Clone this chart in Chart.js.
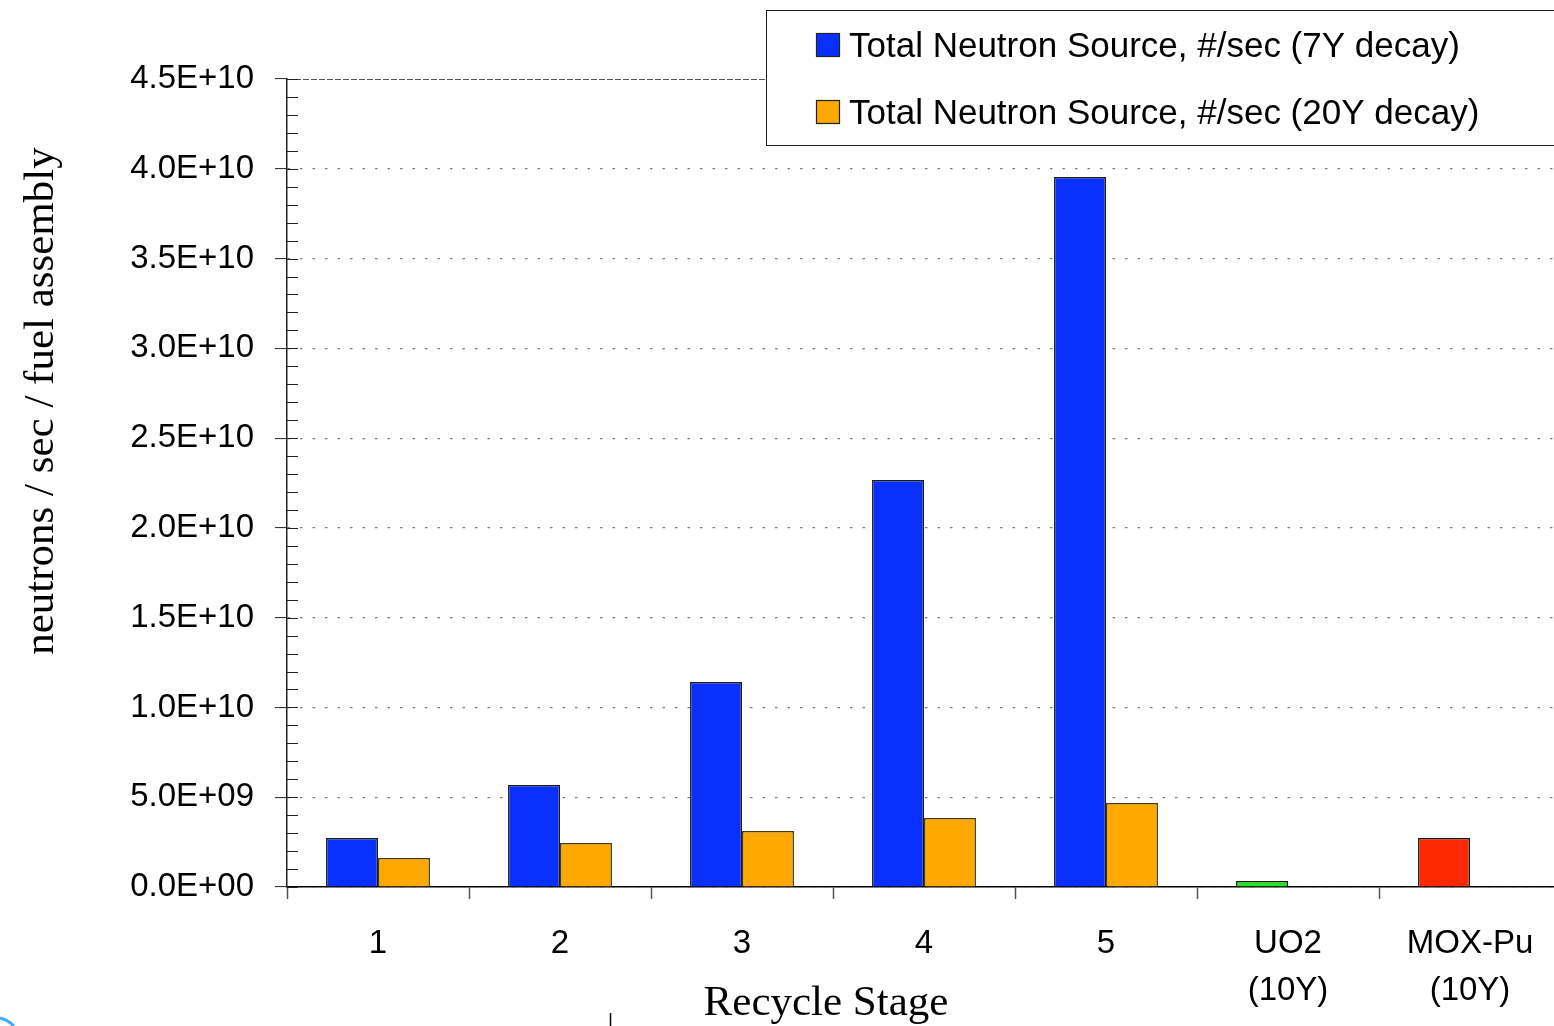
<!DOCTYPE html>
<html>
<head>
<meta charset="utf-8">
<script src="https://cdn.jsdelivr.net/npm/chart.js@4.4.0/dist/chart.umd.min.js"></script>
<style>
  html, body { margin: 0; padding: 0; background: #fff; overflow: hidden; }
  #wrap { width: 1561px; height: 1026px; }
</style>
</head>
<body>
<div id="wrap"><canvas id="c" width="1561" height="1026"></canvas></div>
<script>
// ---- data ----
const categories = ['1', '2', '3', '4', '5', ['UO2', '(10Y)'], ['MOX-Pu', '(10Y)']];
const series7Y = [2.73e9, 5.68e9, 11.42e9, 22.67e9, 39.54e9, 0.33e9, 2.73e9];
const series20Y = [1.62e9, 2.45e9, 3.12e9, 3.84e9, 4.68e9, null, null];
const seriesLabels = ['Total Neutron Source, #/sec (7Y decay)', 'Total Neutron Source, #/sec (20Y decay)'];
const yMin = 0, yMax = 4.5e10, yStep = 5e9, yMinorStep = 1e9;
const xTitle = 'Recycle Stage';
const yTitle = 'neutrons / sec / fuel assembly';

// ---- styles ----
const BLUE = '#0a30ff', ORANGE = '#ffa800', GREEN = '#22e622', RED = '#ff2a00';
const SANS = "'Liberation Sans', Arial, sans-serif";
const SERIF = "'Liberation Serif', 'Times New Roman', serif";

function fmtExp(v) {
  if (v === 0) return '0.0E+00';
  const e = Math.floor(Math.log10(Math.abs(v)) + 1e-9);
  const m = v / Math.pow(10, e);
  return m.toFixed(1) + 'E' + (e >= 0 ? '+' : '-') + String(Math.abs(e)).padStart(2, '0');
}

const decorPlugin = {
  id: 'decor',
  afterDatasetsDraw(chart) {
    const ctx = chart.ctx, y = chart.scales.y, area = chart.chartArea;
    ctx.save();
    // top dashed gridline
    ctx.strokeStyle = '#555';
    ctx.lineWidth = 1;
    ctx.setLineDash([6, 2]);
    ctx.beginPath();
    ctx.moveTo(area.left, Math.round(y.getPixelForValue(yMax)) + 0.5);
    ctx.lineTo(area.right, Math.round(y.getPixelForValue(yMax)) + 0.5);
    ctx.stroke();
    ctx.setLineDash([]);
    // minor + inner ticks
    ctx.strokeStyle = '#222';
    for (let v = yMin; v <= yMax + 1; v += yMinorStep) {
      const py = Math.round(y.getPixelForValue(v)) + 0.5;
      ctx.beginPath();
      ctx.moveTo(area.left, py);
      ctx.lineTo(area.left + 11, py);
      ctx.stroke();
    }
    ctx.restore();
  },
  afterDraw(chart) {
    const ctx = chart.ctx;
    ctx.save();
    // legend
    ctx.fillStyle = '#fff';
    ctx.fillRect(766, 10, 900, 135);
    ctx.strokeStyle = '#222';
    ctx.lineWidth = 1;
    ctx.strokeRect(766.5, 10.5, 900, 135);
    const sw = [BLUE, ORANGE];
    const ys = [33, 100];
    ctx.font = '35px ' + SANS;
    ctx.textBaseline = 'alphabetic';
    ctx.textAlign = 'left';
    chart.data.datasets.forEach((ds, i) => {
      ctx.fillStyle = sw[i];
      ctx.fillRect(816, ys[i], 24, 24);
      ctx.strokeStyle = '#222';
      ctx.lineWidth = 1.2;
      ctx.strokeRect(816.5, ys[i] + 0.5, 23, 23);
      ctx.fillStyle = '#000';
      ctx.fillText(ds.label, 849, ys[i] + 24);
    });
    // axis titles
    ctx.fillStyle = '#000';
    ctx.font = '43px ' + SERIF;
    ctx.textAlign = 'center';
    ctx.fillText(xTitle, 826, 1015);
    ctx.save();
    ctx.translate(53, 401);
    ctx.rotate(-Math.PI / 2);
    ctx.fillText(yTitle, 0, 0);
    ctx.restore();
    // edge artifacts
    ctx.strokeStyle = '#44aaff';
    ctx.lineWidth = 3;
    ctx.beginPath();
    ctx.moveTo(0, 1018);
    ctx.quadraticCurveTo(8, 1020, 14, 1026);
    ctx.stroke();
    ctx.strokeStyle = '#000';
    ctx.lineWidth = 1.5;
    ctx.beginPath();
    ctx.moveTo(610.5, 1013);
    ctx.lineTo(610.5, 1026);
    ctx.stroke();
    ctx.restore();
  }
};

new Chart(document.getElementById('c'), {
  type: 'bar',
  data: {
    labels: categories,
    datasets: [
      {
        label: seriesLabels[0],
        data: series7Y,
        backgroundColor: [BLUE, BLUE, BLUE, BLUE, BLUE, GREEN, RED],
        borderColor: '#1a1a1a',
        borderWidth: 1.5,
        barPercentage: 1.0,
        categoryPercentage: 0.571
      },
      {
        label: seriesLabels[1],
        data: series20Y,
        backgroundColor: ORANGE,
        borderColor: '#4a3a10',
        borderWidth: 1.5,
        barPercentage: 1.0,
        categoryPercentage: 0.571
      }
    ]
  },
  options: {
    responsive: false,
    animation: false,
    devicePixelRatio: 1,
    layout: { padding: { top: 79, left: 0, right: 0, bottom: 0 } },
    plugins: { legend: { display: false }, tooltip: { enabled: false }, title: { display: false } },
    scales: {
      x: {
        grid: { display: true, drawOnChartArea: false, drawTicks: true, tickLength: 12, tickColor: '#555', tickWidth: 1.5, offset: true },
        border: { display: true, color: '#000', width: 1.5 },
        ticks: { color: '#000', font: { family: SANS, size: 33, lineHeight: 1.44 }, padding: 21, maxRotation: 0, autoSkip: false },
        afterFit(s) { s.height = 139; }
      },
      y: {
        min: yMin, max: yMax,
        grid: {
          color: (c) => (c.tick && c.tick.value === yMax) ? 'rgba(0,0,0,0)' : '#7a7a7a',
          lineWidth: 1.2,
          drawTicks: true, tickLength: 12, tickColor: '#222', tickWidth: 1
        },
        border: { display: true, color: '#2a2418', width: 1.5, dash: [2.5, 10] },
        ticks: {
          stepSize: yStep, color: '#000', padding: 21,
          font: { family: SANS, size: 33 },
          callback: (v) => fmtExp(v)
        },
        afterFit(s) { s.width = 287; }
      }
    }
  },
  plugins: [decorPlugin]
});
</script>
</body>
</html>
